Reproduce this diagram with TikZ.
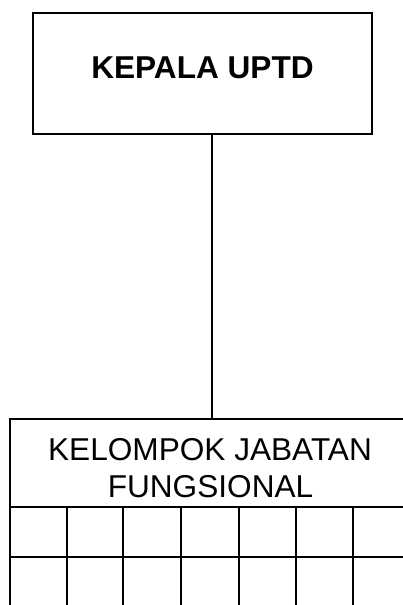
\documentclass[tikz,border=0pt]{standalone}
\usepackage{fontspec}
\setmainfont{Liberation Sans}
\begin{document}
\begin{tikzpicture}[x=1pt,y=-1pt,line width=1.8pt,
  box/.style={draw,rectangle,inner sep=0pt,outer sep=0pt},
  txt/.style={inner sep=0pt,anchor=base,font=\fontsize{31.6}{37}\selectfont}]
\useasboundingbox (0,0) rectangle (403,605);
\clip (0,0) rectangle (403,605);
% top box
\node[box,minimum width=339pt,minimum height=121pt] (kepala) at (202.5,73.5) {};
\node[txt,font=\fontsize{31.6}{37}\selectfont\bfseries] (kepalatxt) at (202.5,78) {KEPALA UPTD};
% bottom header box
\node[box,minimum width=404pt,minimum height=88pt,anchor=north west] (kjf) at (10,419) {};
\node[txt] (kjf1) at (210,460) {KELOMPOK JABATAN};
\node[txt] (kjf2) at (210.5,497) {FUNGSIONAL};
% connector
\draw (kepala.south -| kjf.north) -- (kjf.north);
% grid below
\coordinate (gbot) at (10,620);
\draw (kjf.south west) rectangle (414,620);
\draw (10,557) -- (414,557);
\foreach \gx in {67,123,181,239,296,353}{
  \draw (\gx,507) -- (\gx,620);
}
\end{tikzpicture}
\end{document}
